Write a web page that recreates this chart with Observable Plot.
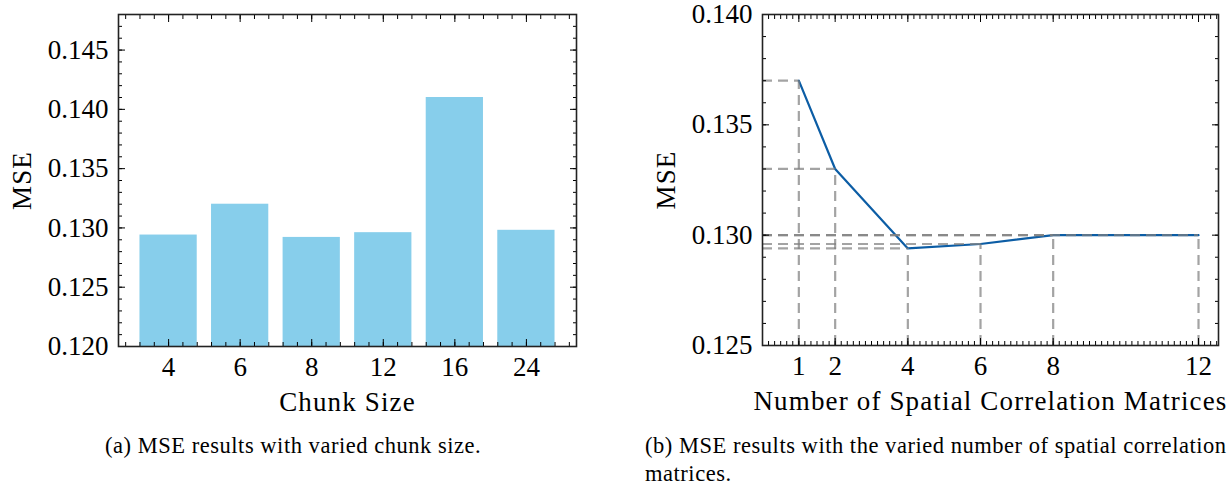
<!DOCTYPE html>
<html>
<head>
<meta charset="utf-8">
<script src="https://cdn.jsdelivr.net/npm/d3@7"></script>
<script src="https://cdn.jsdelivr.net/npm/@observablehq/plot@0.6"></script>
<style>
  html, body { margin: 0; padding: 0; background: #fff; }
  #root { position: relative; width: 1232px; height: 485px; overflow: hidden; background: #fff; }
  #left { position: absolute; left: 0; top: 0; }
  #right { position: absolute; left: 620px; top: 0; }
  .cap { position: absolute; font-family: "Liberation Serif", "Times New Roman", serif; font-size: 22.5px; letter-spacing: 0.53px; line-height: 27.5px; color: #000; white-space: nowrap; }
  #capA { left: 105px; top: 432px; }
  #capB { left: 645px; top: 432px; }
  g[aria-label="text"] text { letter-spacing: 1.15px; }
</style>
</head>
<body>
<div id="root">
  <div id="left"></div>
  <div id="right"></div>
  <div class="cap" id="capA"></div>
  <div class="cap" id="capB"></div>
</div>
<script>
// ---- data ----
const chunkSizes = ["4", "6", "8", "12", "16", "24"];
const chunkMSE = [0.1294, 0.1320, 0.1292, 0.1296, 0.1410, 0.1298];
const matrixCounts = [1, 2, 4, 6, 8, 12];
const matrixMSE = [0.1370, 0.1330, 0.1294, 0.1296, 0.1300, 0.1300];
const leftYTicks = [0.120, 0.125, 0.130, 0.135, 0.140, 0.145];
const rightYTicks = [0.125, 0.130, 0.135, 0.140];
const leftYDomain = [0.120, 0.148];
const rightYDomain = [0.125, 0.140];
const rightXDomain = [0, 12.55];
const leftXDomain = [-0.7, 5.7];
const labelA = "Chunk Size";
const labelB = "Number of Spatial Correlation Matrices";
const labelY = "MSE";
const captionA = "(a) MSE results with varied chunk size.";
const captionB1 = "(b) MSE results with the varied number of spatial correlation";
const captionB2 = "matrices.";

const barColor = "#87CEEB";
const lineColor = "#0C5DA5";
const font = "Liberation Serif";
const fs = "27px";

const bars = chunkSizes.map((c, i) => ({i, label: c, mse: chunkMSE[i]}));
const pts = matrixCounts.map((n, i) => ({n, mse: matrixMSE[i]}));

// minor tick positions
const leftXMinor = d3.range(-3, 29).map(k => k * 0.2);
const leftYMinor = d3.range(121, 148).map(k => k / 1000);
const rightXMinor = d3.range(1, 76).map(k => k / 6);
const rightYMinor = d3.range(126, 140).map(k => k / 1000);

const MAJ = -7, MIN = -4;
const blank = () => "";

function tickAxes(xMajor, xMinor, yMajor, yMinor, xFmt, yFmt) {
  return [
    Plot.axisX(xMajor, {anchor: "bottom", tickSize: MAJ, tickPadding: 17, tickFormat: xFmt, label: null, fontSize: fs}),
    Plot.axisX(xMinor, {anchor: "bottom", tickSize: MIN, tickFormat: blank, label: null}),
    Plot.axisX(xMajor, {anchor: "top", tickSize: MAJ, tickFormat: blank, label: null}),
    Plot.axisX(xMinor, {anchor: "top", tickSize: MIN, tickFormat: blank, label: null}),
    Plot.axisY(yMajor, {anchor: "left", tickSize: MAJ, tickPadding: 17, tickFormat: yFmt, label: null, fontSize: fs}),
    Plot.axisY(yMinor, {anchor: "left", tickSize: MIN, tickFormat: blank, label: null}),
    Plot.axisY(yMajor, {anchor: "right", tickSize: MAJ, tickFormat: blank, label: null}),
    Plot.axisY(yMinor, {anchor: "right", tickSize: MIN, tickFormat: blank, label: null})
  ];
}

const fmt3 = d3.format(".3f");

// ---- left chart ----
const leftPlot = Plot.plot({
  width: 620, height: 420,
  marginLeft: 118, marginRight: 44, marginTop: 14, marginBottom: 74,
  x: {type: "linear", domain: leftXDomain},
  y: {domain: leftYDomain},
  style: {fontFamily: font, fontSize: fs, background: "white", color: "black", overflow: "visible"},
  marks: [
    Plot.rect(bars, {x1: d => d.i - 0.4, x2: d => d.i + 0.4, y1: leftYDomain[0], y2: "mse", fill: barColor}),
    ...tickAxes(bars.map(d => d.i), leftXMinor, leftYTicks, leftYMinor, i => chunkSizes[i], fmt3),
    Plot.frame({stroke: "#222", strokeWidth: 1.6}),
    Plot.text([labelA], {frameAnchor: "bottom", dy: 56, text: d => d, lineAnchor: "middle", fontSize: fs}),
    Plot.text([labelY], {frameAnchor: "left", dx: -96, rotate: -90, text: d => d, textAnchor: "middle", lineAnchor: "middle", fontSize: fs})
  ]
});
document.getElementById("left").appendChild(leftPlot);

// ---- right chart ----
const dashStyle = {stroke: "gray", strokeOpacity: 0.72, strokeWidth: 2.2, strokeDasharray: "10,6"};
const rightPlot = Plot.plot({
  width: 612, height: 420,
  marginLeft: 142, marginRight: 14, marginTop: 14, marginBottom: 75,
  x: {type: "linear", domain: rightXDomain},
  y: {domain: rightYDomain},
  style: {fontFamily: font, fontSize: fs, background: "white", color: "black", overflow: "visible"},
  marks: [
    Plot.line(pts, {x: "n", y: "mse", stroke: lineColor, strokeWidth: 2.2}),
    Plot.ruleY(pts, {y: "mse", x1: rightXDomain[0], x2: "n", ...dashStyle}),
    Plot.ruleX(pts, {x: "n", y1: rightYDomain[0], y2: "mse", ...dashStyle}),
    ...tickAxes(matrixCounts, rightXMinor, rightYTicks, rightYMinor, d => String(d), fmt3),
    Plot.frame({stroke: "#222", strokeWidth: 1.6}),
    Plot.text([labelB], {frameAnchor: "bottom", dy: 56, text: d => d, lineAnchor: "middle", fontSize: fs}),
    Plot.text([labelY], {frameAnchor: "left", dx: -96, rotate: -90, text: d => d, textAnchor: "middle", lineAnchor: "middle", fontSize: fs})
  ]
});
document.getElementById("right").appendChild(rightPlot);

document.getElementById("capA").textContent = captionA;
const capB = document.getElementById("capB");
capB.appendChild(document.createTextNode(captionB1));
capB.appendChild(document.createElement("br"));
capB.appendChild(document.createTextNode(captionB2));
</script>
</body>
</html>
